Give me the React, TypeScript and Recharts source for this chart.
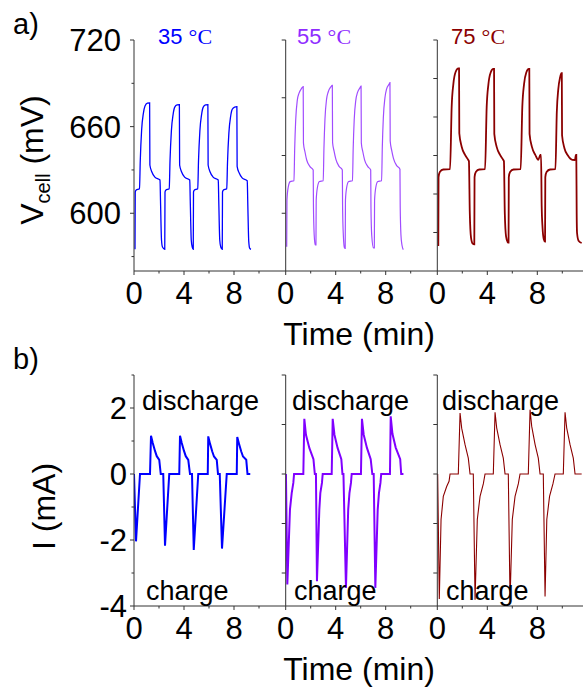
import { LineChart, Line, XAxis, YAxis } from "recharts";

// ---- data: [time (min), value] ----
const vcell35: [number, number][] = [
  [0.08, 575], [0.1, 614.7], [0.16, 616], [0.44, 617], [0.5, 636], [0.61, 657.7], [0.75, 669.2], [0.88, 674.3], [1.07, 676.2], [1.25, 676.4], [1.27, 633.4], [1.43, 628.6], [1.67, 625], [2.08, 623], [2.12, 609], [2.2, 581.5], [2.28, 576.6],
  [2.46, 575], [2.48, 614.7], [2.54, 616], [2.82, 617], [2.88, 636], [2.99, 657], [3.13, 668.5], [3.26, 673.5], [3.45, 675], [3.63, 675.2], [3.65, 633.4], [3.81, 628.6], [4.05, 625], [4.46, 623], [4.5, 609], [4.58, 581.5], [4.66, 576.6],
  [4.74, 575], [4.76, 614.7], [4.82, 616], [5.1, 617], [5.16, 636], [5.27, 657], [5.41, 668.5], [5.54, 673.5], [5.73, 675], [5.91, 675.2], [5.93, 633.4], [6.09, 628.6], [6.33, 625], [6.74, 623], [6.78, 609], [6.86, 581.5], [6.94, 576.6],
  [7.06, 575], [7.08, 614.7], [7.14, 616], [7.42, 617], [7.48, 635], [7.59, 655.5], [7.73, 667], [7.86, 672], [8.05, 673.5], [8.23, 673.8], [8.25, 632.5], [8.41, 628], [8.65, 624.5], [9.06, 622.5], [9.1, 608], [9.18, 580.5], [9.26, 575.6], [9.36, 575],
];

const vcell55: [number, number][] = [
  [0.08, 576.8], [0.1, 609], [0.2, 618], [0.36, 621.9], [0.66, 622.5], [0.72, 645], [0.8, 664.6], [0.93, 678.4], [1.06, 683], [1.27, 686.5], [1.4, 687.7], [1.42, 648.7], [1.54, 642.6], [1.68, 636.9], [1.94, 632.3], [2.2, 630], [2.22, 605], [2.28, 585], [2.36, 578],
  [2.42, 578], [2.44, 609], [2.54, 618], [2.7, 622], [3.0, 622.5], [3.06, 645], [3.14, 665], [3.27, 679], [3.4, 684], [3.61, 687.5], [3.73, 688.6], [3.75, 649], [3.87, 643], [4.01, 637.5], [4.27, 632.5], [4.53, 630], [4.55, 605], [4.61, 585], [4.7, 576],
  [4.76, 575.7], [4.78, 609], [4.88, 618], [5.04, 622], [5.34, 622.5], [5.4, 645], [5.48, 664.6], [5.61, 678.4], [5.74, 683.5], [5.95, 687], [6.03, 688], [6.05, 648.7], [6.17, 642.6], [6.31, 637], [6.57, 632.3], [6.8, 630], [6.82, 605], [6.88, 585], [7.02, 576],
  [7.09, 576], [7.11, 609], [7.21, 618], [7.37, 622], [7.67, 622.5], [7.73, 646], [7.81, 666], [7.94, 680], [8.07, 686], [8.28, 689.5], [8.34, 690.5], [8.36, 650], [8.48, 643.5], [8.62, 638], [8.88, 633], [9.14, 630.5], [9.16, 605], [9.22, 585], [9.3, 578], [9.41, 574.8],
];

const vcell75: [number, number][] = [
  [0.08, 577.3], [0.1, 625], [0.2, 628.5], [0.48, 630.3], [1.02, 630.5], [1.15, 673.8], [1.29, 690], [1.47, 698], [1.68, 700.4], [1.74, 700.4], [1.76, 655.4], [1.95, 646.1], [2.22, 640.4], [2.48, 636.9], [2.53, 636], [2.6, 600], [2.7, 583], [2.83, 579], [2.96, 578.5],
  [2.98, 625], [3.08, 628.5], [3.36, 630.3], [3.82, 630.5], [3.95, 673.5], [4.09, 689.5], [4.27, 697.5], [4.48, 700], [4.54, 700], [4.56, 655], [4.75, 646], [5.02, 640.4], [5.28, 636.9], [5.33, 636], [5.4, 600], [5.5, 584], [5.63, 580], [5.7, 579.6],
  [5.72, 625], [5.82, 628.5], [6.1, 630.3], [6.67, 630.5], [6.8, 673.5], [6.94, 689.5], [7.12, 697.5], [7.32, 700], [7.36, 700], [7.38, 655], [7.57, 646], [7.84, 640.4], [8.08, 637], [8.24, 640.4], [8.3, 640.4], [8.35, 605], [8.42, 590], [8.52, 582], [8.62, 580.3],
  [8.64, 625], [8.74, 628.5], [9.02, 630.3], [9.45, 630.5], [9.56, 670], [9.68, 686], [9.82, 694], [9.93, 697], [9.96, 697], [9.98, 654], [10.17, 645], [10.45, 640], [10.8, 637], [11.02, 636.9], [11.08, 640.4], [11.12, 640.4], [11.15, 600], [11.18, 586.3], [11.3, 581], [11.55, 579.4],
];

const current35: [number, number][] = [
  [0, 0], [0.16, -2.04], [0.48, 0], [1.28, 0], [1.36, 1.16], [1.5, 0.94], [1.68, 0.7], [1.82, 0.54], [2.02, 0.43], [2.14, 0], [2.34, 0],
  [2.48, -2.17], [2.82, 0], [3.62, 0], [3.68, 1.16], [3.82, 0.94], [4.0, 0.7], [4.14, 0.54], [4.34, 0.43], [4.48, 0], [4.64, 0],
  [4.78, -2.3], [5.14, 0], [5.9, 0], [5.94, 1.14], [6.08, 0.92], [6.26, 0.68], [6.4, 0.53], [6.62, 0.43], [6.72, 0], [6.86, 0],
  [7.04, -2.26], [7.42, 0], [8.22, 0], [8.26, 1.12], [8.4, 0.92], [8.58, 0.68], [8.72, 0.53], [8.98, 0.43], [9.08, 0], [9.3, 0],
];

const current55: [number, number][] = [
  [0.02, 0], [0.13, -3.35], [0.34, -1.08], [0.48, -0.58], [0.61, -0.27], [0.67, 0], [1.41, 0], [1.49, 1.67], [1.62, 1.19], [1.89, 0.79], [2.22, 0.45], [2.33, 0], [2.42, 0],
  [2.5, -3.25], [2.69, -1.08], [2.77, -0.58], [2.9, -0.27], [2.96, 0], [3.68, 0], [3.76, 1.67], [3.9, 1.19], [4.15, 0.79], [4.45, 0.45], [4.54, 0], [4.62, 0],
  [4.82, -3.45], [5.0, -1.08], [5.1, -0.58], [5.22, -0.27], [5.28, 0], [6.02, 0], [6.1, 1.67], [6.24, 1.19], [6.5, 0.79], [6.8, 0.45], [6.93, 0], [7.04, 0],
  [7.17, -3.45], [7.36, -1.08], [7.46, -0.58], [7.58, -0.27], [7.64, 0], [8.34, 0], [8.4, 1.75], [8.54, 1.22], [8.8, 0.8], [9.16, 0.45], [9.24, 0], [9.42, 0],
];

const current75: [number, number][] = [
  [0.03, 0], [0.16, -3.79], [0.3, -1.38], [0.48, -0.68], [0.75, -0.38], [0.94, -0.22], [1.02, 0], [1.68, 0], [1.82, 1.85], [1.95, 1.39], [2.22, 0.89], [2.48, 0.48], [2.62, 0], [2.88, 0],
  [3.02, -3.81], [3.2, -1.38], [3.42, -0.68], [3.68, -0.3], [3.82, 0], [4.48, 0], [4.62, 1.87], [4.75, 1.4], [5.02, 0.89], [5.28, 0.48], [5.42, 0], [5.68, 0],
  [5.82, -3.81], [6.0, -1.38], [6.22, -0.68], [6.48, -0.3], [6.62, 0], [7.28, 0], [7.42, 1.95], [7.55, 1.45], [7.82, 0.9], [8.08, 0.48], [8.22, 0], [8.48, 0],
  [8.62, -3.71], [8.76, -1.38], [8.98, -0.68], [9.25, -0.3], [9.42, 0], [10.08, 0], [10.22, 1.87], [10.35, 1.4], [10.62, 0.89], [10.88, 0.48], [11.02, 0], [11.55, 0],
];

// ---- axes ----
const timeTicks = [0, 2, 4, 6, 8, 10];
const timeLabels = [0, 4, 8];
const vTicks35 = [570, 600, 630, 660, 690, 720];
const vLabels35 = [600, 660, 720];
const vTicks55 = [600, 640, 680, 720];
const vTicks75 = [586.667, 613.333, 640, 666.667, 693.333, 720];
const iTicks35 = [-4, -3, -2, -1, 0, 1, 2, 3];
const iLabels35 = [-4, -2, 0, 2];
const iTicksHot = [-3, -1.5, 0, 1.5, 3];

const FONT = "'Liberation Sans', Arial, sans-serif";
const SERIF = "'Liberation Serif', 'Times New Roman', serif";
const AXIS = "#333";
const CW = 600;
const PW = 151.7;
const PH = 231;
const LEFTS = [134, 285.7, 437.3];

const toRows = (pts: [number, number][]) => pts.map(([t, v]) => ({ t, v }));

const yTick = (labels: number[], gap: number, majorAll: boolean) => (p: any) => {
  const v = p.payload.value;
  const major = majorAll || labels.includes(v);
  const len = major ? 4 : 2.5;
  return (
    <g>
      <line x1={p.x - len} x2={p.x} y1={p.y} y2={p.y} stroke={AXIS} strokeWidth={1} />
      {labels.includes(v) ? (
        <text x={p.x - gap} y={p.y + 11} textAnchor="end" fontSize={31} fontFamily={FONT} fill="#000">
          {v}
        </text>
      ) : null}
    </g>
  );
};

const xTick = (p: any) => {
  const v = p.payload.value;
  const major = timeLabels.includes(v);
  return (
    <g>
      <line x1={p.x} x2={p.x} y1={p.y} y2={p.y + (major ? 4 : 2.5)} stroke={AXIS} strokeWidth={1} />
      {major ? (
        <text x={p.x} y={p.y + 32.5} textAnchor="middle" fontSize={31} fontFamily={FONT} fill="#000">
          {v}
        </text>
      ) : null}
    </g>
  );
};

type PanelProps = {
  left: number;
  top: number;
  height: number;
  pts: [number, number][];
  yDomain: [number, number];
  yTicks: number[];
  yLabels: number[];
  gap: number;
  color: string;
  lw: number;
  curve: "linear" | "monotoneX";
};

const Panel = ({ left, top, height, pts, yDomain, yTicks, yLabels, gap, color, lw, curve }: PanelProps) => (
  <div style={{ position: "absolute", left: 0, top }}>
    <LineChart
      width={CW}
      height={height}
      data={toRows(pts)}
      margin={{ top: 40, left: left - 1, right: CW - left - PW, bottom: height - 40 - PH - 1 }}
    >
      <XAxis
        dataKey="t"
        type="number"
        domain={[0, PW / 12.5]}
        ticks={timeTicks}
        interval={0}
        allowDataOverflow
        height={1}
        tickSize={0}
        tickMargin={0}
        tickLine={false}
        axisLine={{ stroke: AXIS }}
        tick={xTick}
      />
      <YAxis
        type="number"
        domain={yDomain}
        ticks={yTicks}
        interval={0}
        allowDataOverflow
        width={1}
        tickSize={0}
        tickMargin={0}
        tickLine={false}
        axisLine={{ stroke: AXIS }}
        tick={yTick(yLabels, gap, yLabels.length === 0)}
      />
      <Line
        dataKey="v"
        type={curve}
        stroke={color}
        strokeWidth={lw}
        dot={false}
        activeDot={false}
        isAnimationActive={false}
      />
    </LineChart>
  </div>
);

const txt = { fontFamily: FONT, fill: "#000" };

export default function App() {
  const V: [number, number] = [560, 720];
  const I: [number, number] = [-4, 3];
  return (
    <div style={{ position: "absolute", left: 0, top: 0, width: 583, height: 687, overflow: "hidden", background: "#fff" }}>
      <Panel left={LEFTS[0]} top={0} height={330} pts={vcell35} yDomain={V} yTicks={vTicks35} yLabels={vLabels35} gap={13} color="#0000ff" lw={1.3} curve="monotoneX" />
      <Panel left={LEFTS[1]} top={0} height={330} pts={vcell55} yDomain={V} yTicks={vTicks55} yLabels={[]} gap={13} color="#a04cff" lw={1.2} curve="monotoneX" />
      <Panel left={LEFTS[2]} top={0} height={330} pts={vcell75} yDomain={V} yTicks={vTicks75} yLabels={[]} gap={13} color="#8b0000" lw={1.8} curve="monotoneX" />
      <Panel left={LEFTS[0]} top={335} height={352} pts={current35} yDomain={I} yTicks={iTicks35} yLabels={iLabels35} gap={7} color="#0000ff" lw={2} curve="linear" />
      <Panel left={LEFTS[1]} top={335} height={352} pts={current55} yDomain={I} yTicks={iTicksHot} yLabels={[]} gap={7} color="#8000ff" lw={2} curve="linear" />
      <Panel left={LEFTS[2]} top={335} height={352} pts={current75} yDomain={I} yTicks={iTicksHot} yLabels={[]} gap={7} color="#8b0000" lw={1.1} curve="linear" />

      <svg width={583} height={687} style={{ position: "absolute", left: 0, top: 0, pointerEvents: "none" }}>
        <text x={13} y={34} fontSize={29} {...txt}>a)</text>
        <text x={13} y={369} fontSize={29} {...txt}>b)</text>

        <text transform="translate(42.5,160) rotate(-90)" textAnchor="middle" fontSize={32} {...txt}>
          <tspan>V</tspan>
          <tspan fontSize={20} dy={7}>cell</tspan>
          <tspan dy={-7} style={{ whiteSpace: "pre" }}> (mV)</tspan>
        </text>
        <text transform="translate(55,506.5) rotate(-90)" textAnchor="middle" fontSize={32} {...txt}>I (mA)</text>

        <text x={359} y={345} textAnchor="middle" fontSize={32} {...txt}>Time (min)</text>
        <text x={359} y={680} textAnchor="middle" fontSize={32} {...txt}>Time (min)</text>

        <text x={158} y={44} fontSize={22} fontFamily={FONT} fill="#0000ff" style={{ whiteSpace: "pre" }}>
          <tspan>35 </tspan><tspan fontFamily={SERIF}>°C</tspan>
        </text>
        <text x={297} y={44} fontSize={22} fontFamily={FONT} fill="#8f2cff" style={{ whiteSpace: "pre" }}>
          <tspan>55 </tspan><tspan fontFamily={SERIF}>°C</tspan>
        </text>
        <text x={451} y={44} fontSize={22} fontFamily={FONT} fill="#8b0000" style={{ whiteSpace: "pre" }}>
          <tspan>75 </tspan><tspan fontFamily={SERIF}>°C</tspan>
        </text>

        <text x={142} y={410} fontSize={27} {...txt}>discharge</text>
        <text x={146} y={600} fontSize={27} {...txt}>charge</text>
        <text x={292} y={410} fontSize={27} {...txt}>discharge</text>
        <text x={294} y={600} fontSize={27} {...txt}>charge</text>
        <text x={442} y={410} fontSize={27} {...txt}>discharge</text>
        <text x={446} y={600} fontSize={27} {...txt}>charge</text>
      </svg>
    </div>
  );
}
